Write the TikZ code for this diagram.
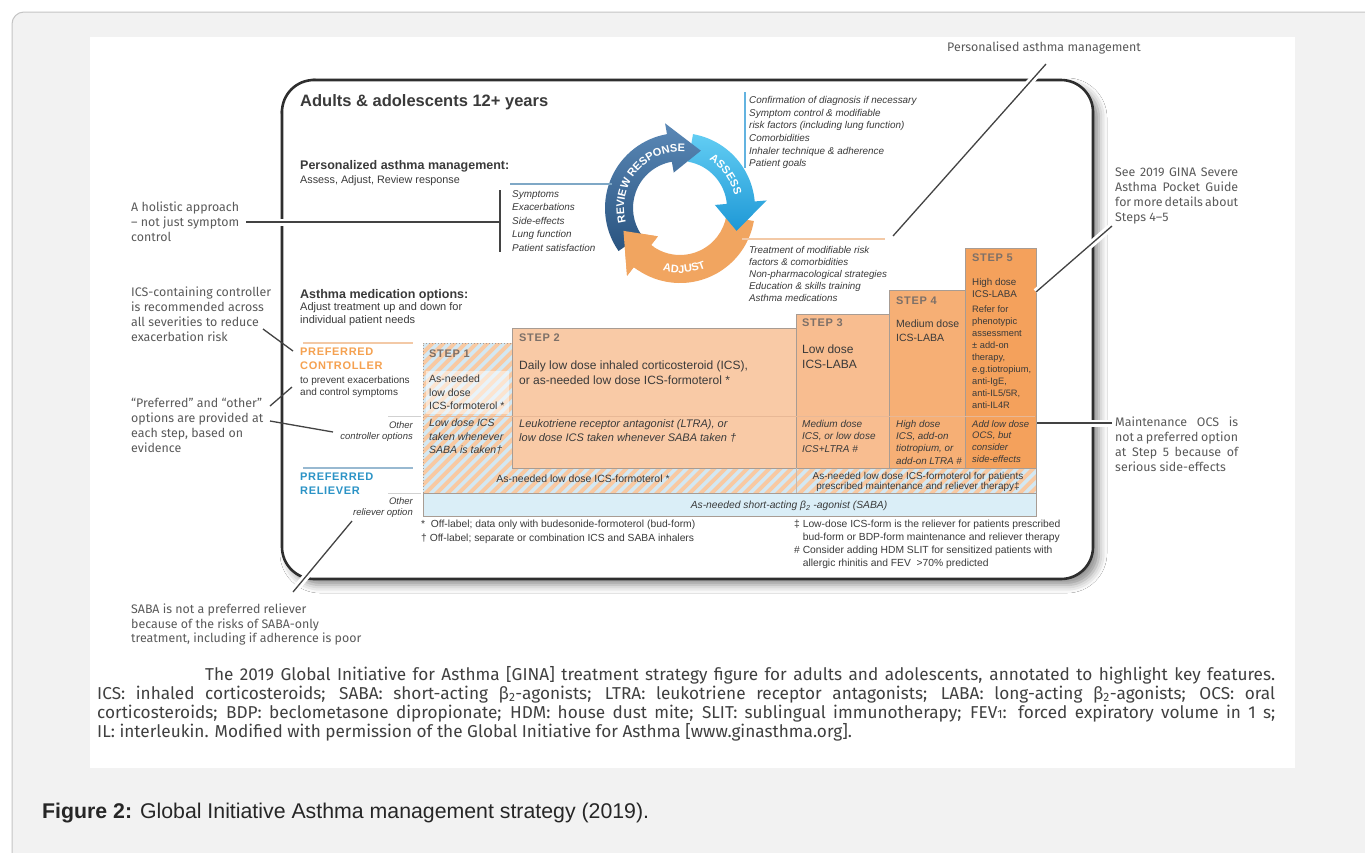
\documentclass[tikz,border=0pt]{standalone}
\usepackage{fontspec}
\setmainfont{Liberation Sans}
\newfontfamily\annfont{Fira Sans}
\newfontfamily\spacedfont[LetterSpace=6]{Liberation Sans}
\usetikzlibrary{decorations.text,shadows.blur}
\newcommand\fsz[2]{\fontsize{#1}{#2}\selectfont}

\definecolor{cardgray}{HTML}{F2F2F2}
\definecolor{cardedge}{HTML}{C4C4C4}
\definecolor{framecol}{HTML}{2E2E2E}
\definecolor{anntext}{HTML}{5A5A5A}
\definecolor{bodytext}{HTML}{3A3A3A}
\definecolor{revA}{HTML}{5A88B6}
\definecolor{revB}{HTML}{2A5480}
\definecolor{assA}{HTML}{62CDF3}
\definecolor{assB}{HTML}{1E98D6}
\definecolor{adjcol}{HTML}{F1A560}
\definecolor{steptwo}{HTML}{F9CAA6}
\definecolor{stepthree}{HTML}{F8BD90}
\definecolor{stepfour}{HTML}{F6AF75}
\definecolor{stepfive}{HTML}{F4A15C}
\definecolor{hatchor}{HTML}{F8C9A2}
\definecolor{hatchbl}{HTML}{D3E8F3}
\definecolor{sabafill}{HTML}{DAEEF7}
\definecolor{boxline}{HTML}{A89C93}
\definecolor{divline}{HTML}{E8B896}
\definecolor{steplabel}{HTML}{7D7068}
\definecolor{prefor}{HTML}{F5A150}
\definecolor{prefbl}{HTML}{2B93C6}
\definecolor{lineblue}{HTML}{7FA8C6}
\definecolor{lightblue}{HTML}{63B3E0}
\definecolor{lineor}{HTML}{F3C9A6}

\begin{document}
\begin{tikzpicture}[x=1pt,y=1pt,
  body/.style={anchor=north west, inner sep=0pt, align=left, text=bodytext},
  ann/.style={anchor=north west, inner sep=0pt, align=left, text=anntext, font=\annfont\fsz{12.4}{15}},
  annjust/.style={ann, align=justify, text width=123pt},
  steplab/.style={anchor=north west, inner sep=0pt, text=steplabel, font=\spacedfont\bfseries\fsz{11}{12}},
  pointer/.style={draw=framecol!90, line width=1.3pt},
  halo/.style={pointer, preaction={draw=white, line width=7pt}},
  stepbox/.style={draw=boxline, line width=1pt},
  arctext/.style={decorate, decoration={text along path, text align=center, text color=white}}
]
\useasboundingbox (0,0) rectangle (1365,-852);

% page, card and figure panel
\fill[white] (0,0) rectangle (1365,-852);
\draw[cardedge, fill=cardgray, line width=1pt, rounded corners=12pt] (12,-12) rectangle (1385,-880);
\fill[white] (90,-37) rectangle (1295,-768);

% main rounded frame
\draw[line width=2.6pt, draw=framecol, fill=white, rounded corners=32pt,
  blur shadow={shadow xshift=6pt, shadow yshift=-6pt, shadow blur radius=8pt, shadow opacity=45}]
  (282,-80) rectangle (1093,-579);

% ---------- management cycle ----------
\begin{scope}[shift={(680,-208)}]
  \fill[adjcol] (-10:75) arc[start angle=-10, end angle=-128, radius=75] -- (-128:86) -- (-158:61)
     -- (-128:36) -- (-128:47) arc[start angle=-128, end angle=-10, radius=47] -- cycle;
  \shade[top color=assA, bottom color=assB] (80:75) arc[start angle=80, end angle=5, radius=75]
     -- (5:87) -- (-22:61) -- (5:35) -- (5:47) arc[start angle=5, end angle=80, radius=47] -- cycle;
  \shade[top color=revA, bottom color=revB] (215:75) arc[start angle=215, end angle=100, radius=75]
     -- (100:86) -- (70:61) -- (100:36) -- (100:47) arc[start angle=100, end angle=215, radius=47] -- cycle;
  \fill[adjcol] (-124:75) arc[start angle=-124, end angle=-128, radius=75] -- (-128:86) -- (-158:61)
     -- (-128:36) -- (-128:47) arc[start angle=-128, end angle=-124, radius=47] -- cycle;
  \path[arctext, decoration={text={|\bfseries\fsz{11}{11}|REVIEW RESPONSE}}]
     (202:56) arc[start angle=202, end angle=78, radius=56];
  \path[arctext, decoration={text={|\bfseries\fsz{11}{11}|ASSESS}}]
     (76:56) arc[start angle=76, end angle=-4, radius=56];
  \path[arctext, decoration={text={|\bfseries\fsz{11}{11}|ADJUST}}]
     (232:65) arc[start angle=232, end angle=316, radius=65];
\end{scope}

% ---------- headings and lists ----------
\node[body, font=\bfseries\fsz{16.5}{19}] (title) at (300,-94) {Adults \& adolescents 12+ years};
\node[body, font=\bfseries\fsz{12.5}{14}] (pam) at (300,-160) {Personalized asthma management:};
\node[body, font=\fsz{10.8}{12}] (pamsub) at (300,-175) {Assess, Adjust, Review response};

\node[body, font=\itshape\fsz{9.9}{13.5}] (revlist) at (512,-190)
  {Symptoms\\Exacerbations\\Side-effects\\Lung function\\Patient satisfaction};
\node[body, font=\itshape\fsz{9.9}{12.7}] (asslist) at (749,-96)
  {Confirmation of diagnosis if necessary\\Symptom control \& modifiable\\risk factors (including lung function)\\Comorbidities\\Inhaler technique \& adherence\\Patient goals};
\node[body, font=\itshape\fsz{9.8}{12}] (adjlist) at (749,-246)
  {Treatment of modifiable risk\\factors \& comorbidities\\Non-pharmacological strategies\\Education \& skills training\\Asthma medications};

\coordinate (revline-a) at (510,-184);
\coordinate (revline-b) at (612,-184);
\draw[lineblue, line width=1.2pt] (revline-a) -- (revline-b);
\coordinate (assline-a) at (745,-92);
\coordinate (assline-b) at (745,-168);
\draw[lightblue, line width=1.2pt] (assline-a) -- (assline-b);
\coordinate (adjline-a) at (742,-239);
\coordinate (adjline-b) at (885,-239);
\draw[lineor, line width=1.6pt] (adjline-a) -- (adjline-b);

\node[body, font=\bfseries\fsz{12.5}{14}] (medopt) at (300,-289) {Asthma medication options:};
\node[body, font=\fsz{11}{13}] (medsub) at (300,-302) {Adjust treatment up and down for\\individual patient needs};

\coordinate (ctrlline-a) at (303,-343);
\coordinate (ctrlline-b) at (413,-343);
\draw[lineor, line width=1.4pt] (ctrlline-a) -- (ctrlline-b);
\node[body, text=prefor, font=\spacedfont\bfseries\fsz{11}{14}] (prefctrl) at (300,-348) {PREFERRED\\CONTROLLER};
\node[body, font=\fsz{10}{12.5}] (ctrlsub) at (300,-376) {to prevent exacerbations\\and control symptoms};
\coordinate (octrl-a) at (388,-416);
\coordinate (octrl-b) at (421,-416);
\draw[black!18, line width=0.8pt] (octrl-a) -- (octrl-b);
\node[body, anchor=north east, align=right, font=\itshape\fsz{9.5}{11.5}] (otherctrl) at (413,-421) {Other\\controller options};

\coordinate (relline-a) at (303,-468);
\coordinate (relline-b) at (413,-468);
\draw[lineblue!80, line width=1.4pt] (relline-a) -- (relline-b);
\node[body, text=prefbl, font=\spacedfont\bfseries\fsz{11}{13.5}] (prefrel) at (300,-473) {PREFERRED\\RELIEVER};
\coordinate (orel-a) at (388,-493);
\coordinate (orel-b) at (421,-493);
\draw[black!18, line width=0.8pt] (orel-a) -- (orel-b);
\node[body, anchor=north east, align=right, font=\itshape\fsz{9.5}{11.5}] (otherrel) at (413,-497) {Other\\reliever option};

% ---------- treatment steps ----------
% step 1 hatching
\begin{scope}
  \clip (423,-343) rectangle (512,-468);
  \fill[hatchbl] (423,-343) rectangle (512,-468);
  \foreach \i in {-140,-129,...,100} \fill[hatchor] (423+\i,-468) -- ++(5.5,0) -- ++(140,140) -- ++(-5.5,0) -- cycle;
\end{scope}
\fill[white, opacity=.5] (426,-371) rectangle (509,-414);
% reliever row hatching
\begin{scope}
  \clip (423,-468) rectangle (1036,-493);
  \fill[hatchbl] (423,-468) rectangle (1036,-493);
  \foreach \i in {-33,-22,...,620} \fill[hatchor] (423+\i,-493) -- ++(5.5,0) -- ++(30,30) -- ++(-5.5,0) -- cycle;
\end{scope}
\draw[boxline, dotted, line width=1pt] (423,-493) -- (423,-343) -- (512,-343);
% SABA row
\draw[stepbox, fill=sabafill] (423,-493) rectangle (1036,-516);
% steps 2-5
\draw[stepbox, fill=steptwo] (512,-328) rectangle (796,-468);
\draw[stepbox, fill=stepthree] (796,-314) rectangle (889,-468);
\draw[stepbox, fill=stepfour] (889,-290) rectangle (965,-468);
\draw[stepbox, fill=stepfive] (965,-248) rectangle (1036,-468);
\draw[boxline!70, line width=0.6pt] (796,-468) -- (796,-493);
\draw[boxline, line width=1pt] (1036,-468) -- (1036,-493);
\draw[divline, line width=0.8pt] (424,-416) -- (1035,-416);

\node[steplab] (s1lab) at (429,-350) {STEP 1};
\node[body, font=\fsz{10.5}{13.5}] (s1pref) at (429,-375) {As-needed\\low dose\\ICS-formoterol *};
\node[body, font=\itshape\fsz{10.5}{13.5}] (s1oth) at (429,-419) {Low dose ICS\\taken whenever\\SABA is taken†};

\node[steplab] (s2lab) at (519,-334) {STEP 2};
\node[body, font=\fsz{12}{15}] (s2pref) at (519,-361) {Daily low dose inhaled corticosteroid (ICS),\\or as-needed low dose ICS-formoterol *};
\node[body, font=\itshape\fsz{11}{14}] (s2oth) at (519,-419) {Leukotriene receptor antagonist (LTRA), or\\low dose ICS taken whenever SABA taken †};

\node[steplab] (s3lab) at (802,-319) {STEP 3};
\node[body, font=\fsz{12}{14.5}] (s3pref) at (802,-345) {Low dose\\ICS-LABA};
\node[body, font=\itshape\fsz{10}{12.5}] (s3oth) at (802,-420) {Medium dose\\ICS, or low dose\\ICS+LTRA \#};

\node[steplab] (s4lab) at (896,-297) {STEP 4};
\node[body, font=\fsz{10.5}{13.5}] (s4pref) at (896,-320) {Medium dose\\ICS-LABA};
\node[body, font=\itshape\fsz{9.8}{12.3}] (s4oth) at (896,-420) {High dose\\ICS, add-on\\tiotropium, or\\add-on LTRA \#};

\node[steplab] (s5lab) at (972,-254) {STEP 5};
\node[body, font=\fsz{9.8}{12}] (s5pref) at (972,-278) {High dose\\ICS-LABA};
\node[body, font=\fsz{9.3}{12}] (s5refer) at (972,-306) {Refer for\\phenotypic\\assessment\\± add-on\\therapy,\\e.g.tiotropium,\\anti-IgE,\\anti-IL5/5R,\\anti-IL4R};
\node[body, font=\itshape\fsz{9.5}{11.8}] (s5oth) at (972,-420) {Add low dose\\OCS, but\\consider\\side-effects};

\node[body, anchor=north, font=\fsz{10.5}{12}] (relA) at (583,-475) {As-needed low dose ICS-formoterol *};
\node[body, anchor=north, align=center, font=\fsz{10}{10.5}] (relB) at (918,-472) {As-needed low dose ICS-formoterol for patients\\prescribed maintenance and reliever therapy‡};
\node[body, anchor=north, font=\itshape\fsz{10.3}{12}] (saba) at (789,-501) {As-needed short-acting β\textsubscript{2} -agonist (SABA)};

% footnotes
\node[body, font=\fsz{10.3}{14}] (fnA) at (421,-520) {*\ \ Off-label; data only with budesonide-formoterol (bud-form)\\† Off-label; separate or combination ICS and SABA inhalers};
\node[body, font=\fsz{10.3}{13}] (fnB) at (794,-520) {‡ Low-dose ICS-form is the reliever for patients prescribed\\\phantom{‡ }bud-form or BDP-form maintenance and reliever therapy\\\# Consider adding HDM SLIT for sensitized patients with\\\phantom{\# }allergic rhinitis and FEV\ \ >70\% predicted};

% ---------- side annotations ----------
\node[ann] (persann) at (947,-42) {Personalised asthma management};
\node[ann] (holistic) at (131,-202) {A holistic approach\\– not just symptom\\control};
\node[ann] (icsann) at (131,-287) {ICS-containing controller\\is recommended across\\all severities to reduce\\exacerbation risk};
\node[ann] (prefann) at (131,-398) {“Preferred” and “other”\\options are provided at\\each step, based on\\evidence};
\node[ann, font=\annfont\fsz{12.4}{14.5}] (sabaann) at (131,-604) {SABA is not a preferred reliever\\because of the risks of SABA-only\\treatment, including if adherence is poor};
\node[annjust] (seeann) at (1115,-168) {See 2019 GINA Severe\linebreak Asthma Pocket Guide\linebreak for more details about\linebreak Steps 4–5};
\node[annjust] (maintann) at (1115,-417) {Maintenance OCS is\linebreak not a preferred option\linebreak at Step 5 because of\linebreak serious side-effects};

\coordinate (hol-a) at (246,-222);
\coordinate (hol-b) at (500,-222);
\draw[halo] (hol-a) -- (hol-b);
\coordinate (brk-a) at (500,-190);
\coordinate (brk-b) at (500,-252);
\draw[pointer] (brk-a) -- (brk-b);

\coordinate (pers-a) at (1046,-64);
\coordinate (pers-b) at (893,-236);
\draw[halo] (pers-a) -- (pers-b);
\coordinate (see-a) at (1112,-226);
\coordinate (see-b) at (1036,-292);
\draw[halo] (see-a) -- (see-b);
\coordinate (mnt-a) at (1112,-423);
\coordinate (mnt-b) at (1037,-423);
\draw[halo] (mnt-a) -- (mnt-b);
\coordinate (saba-a) at (293,-592);
\coordinate (saba-b) at (352,-521);
\draw[halo] (saba-a) -- (saba-b);

\coordinate (ics-a) at (263,-329);
\coordinate (ics-b) at (293,-351);
\draw[pointer] (ics-a) -- (ics-b);
\coordinate (pref-a) at (270,-406);
\coordinate (pref-b) at (292,-387);
\draw[pointer] (pref-a) -- (pref-b);
\coordinate (oth-a) at (270,-421);
\coordinate (oth-b) at (333,-432);
\draw[pointer] (oth-a) -- (oth-b);

% ---------- caption ----------
\node[anchor=north west, inner sep=0pt, text width=1178pt, align=justify, text=black!75,
  font=\annfont\fsz{17.2}{19}] (cap) at (97,-666)
  {\hspace*{108pt}The 2019 Global Initiative for Asthma [GINA] treatment strategy figure for adults and adolescents, annotated to highlight key features.\linebreak
   ICS: inhaled corticosteroids; SABA: short-acting β\textsubscript{2}-agonists; LTRA: leukotriene receptor antagonists; LABA: long-acting β\textsubscript{2}-agonists; OCS: oral\linebreak
   corticosteroids; BDP: beclometasone dipropionate; HDM: house dust mite; SLIT: sublingual immunotherapy; FEV{\fsz{12}{12}1}: forced expiratory volume in 1 s;\linebreak
   IL: interleukin. Modified with permission of the Global Initiative for Asthma [www.ginasthma.org].};

\node[anchor=west, inner sep=0pt, text=black!85, font=\fsz{21.3}{24}] (figlab) at (42,-813)
  {\textbf{Figure 2:} Global Initiative Asthma management strategy (2019).};
\end{tikzpicture}
\end{document}
